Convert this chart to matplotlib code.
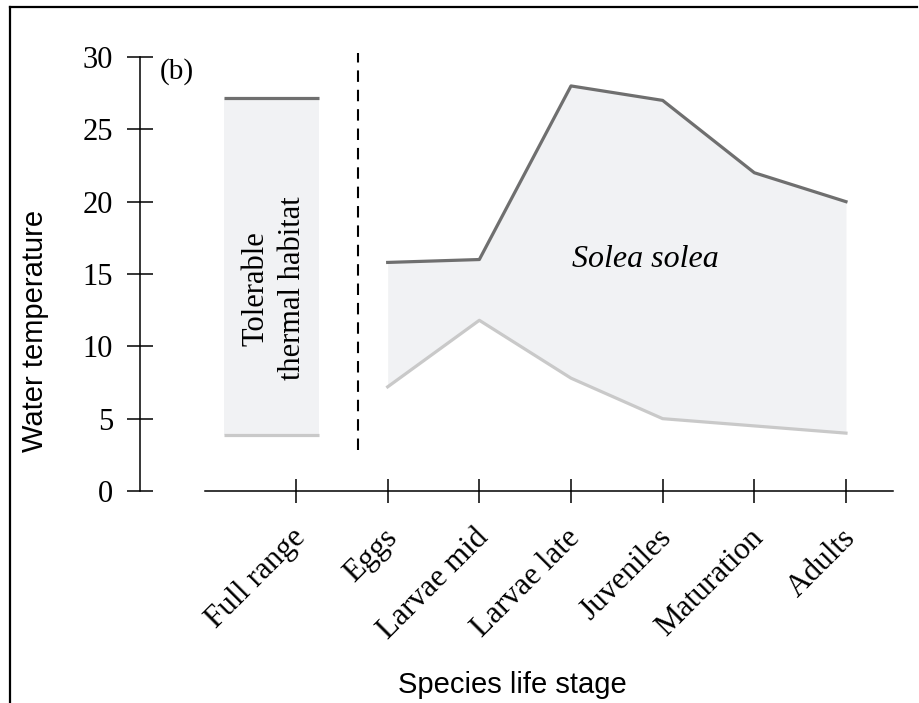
import matplotlib.pyplot as plt
import matplotlib.transforms as mtransforms
from matplotlib.lines import Line2D

# life stages on the x axis
stages = ["Full range", "Eggs", "Larvae mid", "Larvae late",
          "Juveniles", "Maturation", "Adults"]

# tolerable thermal range over the full species range
full_low = 3.9
full_high = 27.2

# Solea solea thermal limits per life stage (Eggs .. Adults)
sole_upper = [15.8, 16.0, 28.0, 27.0, 22.0, 20.0]
sole_lower = [7.2, 11.8, 7.8, 5.0, 4.5, 4.0]

serif = "Liberation Serif"
sans = "Liberation Sans"
fill_col = "#f1f2f4"
upper_col = "#6f6f6f"
lower_col = "#c9c9c9"

fig = plt.figure(figsize=(9.19, 7.03), dpi=100)
ax = fig.add_axes([140 / 919, 212 / 703, 753 / 919, 434 / 703])

x = list(range(len(stages)))
xs = x[1:]

# full range box
box_x = [x[0] - 0.785, x[0] + 0.25]
ax.fill_between(box_x, full_low, full_high, color=fill_col, lw=0)
ax.plot(box_x, [full_high, full_high], color=upper_col, lw=2.3,
        solid_capstyle="butt")
ax.plot(box_x, [full_low, full_low], color=lower_col, lw=2.3,
        solid_capstyle="butt")
ax.text(x[0] - 0.24, 14.0, "Tolerable\nthermal habitat", rotation=90,
        ha="center", va="center", fontsize=22, family=serif,
        linespacing=1.32)

# separator
ax.plot([0.676, 0.676], [2.8, 30.3], color="black", lw=1.5,
        ls=(0, (5.5, 3.8)), clip_on=False)

# sole envelope
ax.fill_between(xs, sole_lower, sole_upper, color=fill_col, lw=0)
ax.plot(xs, sole_upper, color=upper_col, lw=2.3)
ax.plot(xs, sole_lower, color=lower_col, lw=2.3)
ax.text(3.81, 16.0, "Solea solea", style="italic", ha="center",
        va="center", fontsize=23, family=serif)

ax.text(-1.30, 29.0, "(b)", ha="center", va="center", fontsize=21,
        family=serif)

ax.set_xlim(-1.702, 6.513)
ax.set_ylim(0, 30)
for s in ["top", "right"]:
    ax.spines[s].set_visible(False)
ax.spines["left"].set_bounds(0, 30)
ax.spines["bottom"].set_bounds(-0.993, 6.513)
for s in ["left", "bottom"]:
    ax.spines[s].set_linewidth(1.1)
ax.set_yticks([0, 5, 10, 15, 20, 25, 30])
ax.set_xticks(x)
ax.set_xticklabels(stages, rotation=45, ha="right", va="center",
                   rotation_mode="anchor")
ax.tick_params(axis="both", direction="inout", width=1.1,
               labelsize=22)
ax.tick_params(axis="y", length=18.7, pad=10)
ax.tick_params(axis="x", length=17.3, pad=22, labelsize=22.5)
for lab in ax.get_xticklabels() + ax.get_yticklabels():
    lab.set_family(serif)
offset = mtransforms.ScaledTranslation(5 / 100, 0, fig.dpi_scale_trans)
for lab in ax.get_xticklabels():
    lab.set_transform(lab.get_transform() + offset)

ax.set_ylabel("Water temperature", fontsize=21, family=sans)
ax.yaxis.set_label_coords(-0.121, 0.369)
ax.set_xlabel("Species life stage", fontsize=21, family=sans)
ax.xaxis.set_label_coords(0.494, -0.415)

# frame around the panel
fig.add_artist(Line2D([10 / 919, 10 / 919], [0, 1 - 7 / 703],
                      color="black", lw=1.6))
fig.add_artist(Line2D([10 / 919, 917 / 919], [1 - 7 / 703, 1 - 7 / 703],
                      color="black", lw=1.6))

fig.savefig("out.png", dpi=100)
